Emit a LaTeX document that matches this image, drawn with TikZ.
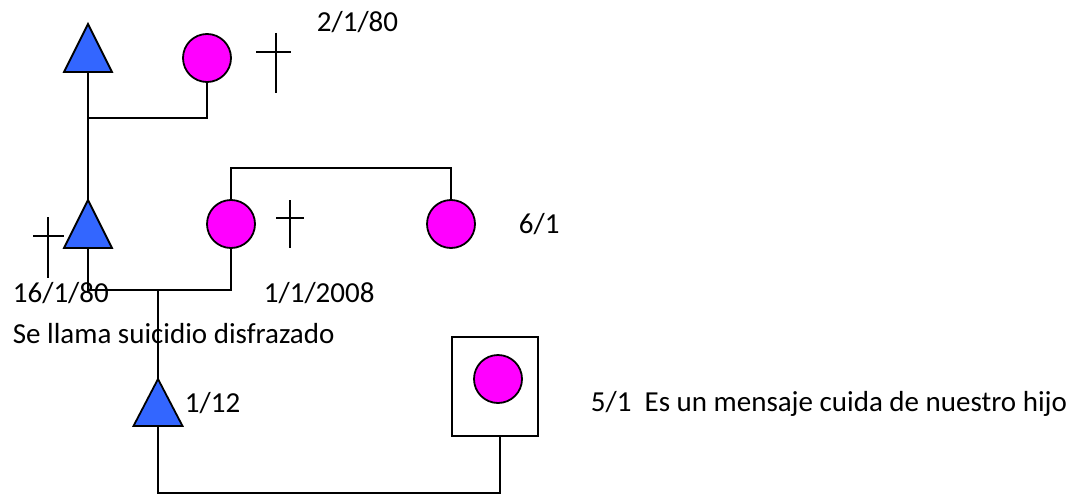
\documentclass[tikz,border=0pt]{standalone}
\usepackage{fontspec}
\setmainfont{Carlito}
\definecolor{triblue}{RGB}{51,102,255}
\definecolor{circmag}{RGB}{255,0,255}
\begin{document}
\begin{tikzpicture}[x=1pt,y=-1pt,
  line width=1.8pt,
  lbl/.style={anchor=base west,inner sep=0pt,font=\fontsize{29pt}{34pt}\selectfont},
  fem/.style={circle,draw,fill=circmag,minimum size=48pt,inner sep=0pt,line width=1.8pt},
  tri/.style={draw,fill=triblue,line join=miter,line width=1.8pt},
  boxed/.style={rectangle,draw,minimum width=86pt,minimum height=99pt,inner sep=0pt,line width=1.8pt},
  crossline/.style={line width=1.8pt}]
\useasboundingbox (0,0) rectangle (1078,495);

% triangles (apex and base-centre coordinates)
\coordinate (t1) at (88,24);  \coordinate (t1b) at (88,72);
\coordinate (t2) at (88,200); \coordinate (t2b) at (88,248);
\coordinate (t3) at (158,379); \coordinate (t3b) at (158,426);
\filldraw[tri] (t1) -- ([xshift=-24pt]t1b) -- ([xshift=24pt]t1b) -- cycle;
\filldraw[tri] (t2) -- ([xshift=-24pt]t2b) -- ([xshift=24pt]t2b) -- cycle;
\filldraw[tri] (t3) -- ([xshift=-24.5pt]t3b) -- ([xshift=24.5pt]t3b) -- cycle;

% circles
\node[fem] (c1) at (207,58) {};
\node[fem] (c2) at (231,224) {};
\node[fem] (c3) at (451,224) {};
\node[boxed] (box) at (495,386.5) {};
\node[fem] (c4) at (498,379) {};

% junction coordinates
\coordinate (j1) at (88,118);
\coordinate (s1) at (0,168);
\coordinate (m1) at (158,290);
\coordinate (b1) at (158,493);

% connectors
\draw (c1.south) |- (j1);
\draw (t1b) -- (t2);
\draw (c2.north) -- (c2.north |- s1) -| (c3.north);
\draw (t2b) |- (c2.south |- m1) -- (c2.south);
\draw (m1) -- (t3);
\draw (t3b) -- (b1) -| ([xshift=5pt]box.south);

% crosses
\draw[crossline] (276,33) -- (276,93) (256,52) -- (291,52);
\draw[crossline] (48,217) -- (48,278) (33,236) -- (64,236);
\draw[crossline] (290,200) -- (290,248) (276,218) -- (304,218);

% labels
\node[lbl] (l1) at (316,32) {2/1/80};
\node[lbl] (l2) at (12,302) {16/1/80};
\node[lbl] (l3) at (263,302) {1/1/2008};
\node[lbl] (l4) at (518,233) {6/1};
\node[lbl] (l5) at (12,343) {Se llama suicidio disfrazado};
\node[lbl] (l6) at (184,412) {1/12};
\node[lbl] (l7) at (590,411) {5/1\ \ Es un mensaje cuida de nuestro hijo};
\end{tikzpicture}
\end{document}
